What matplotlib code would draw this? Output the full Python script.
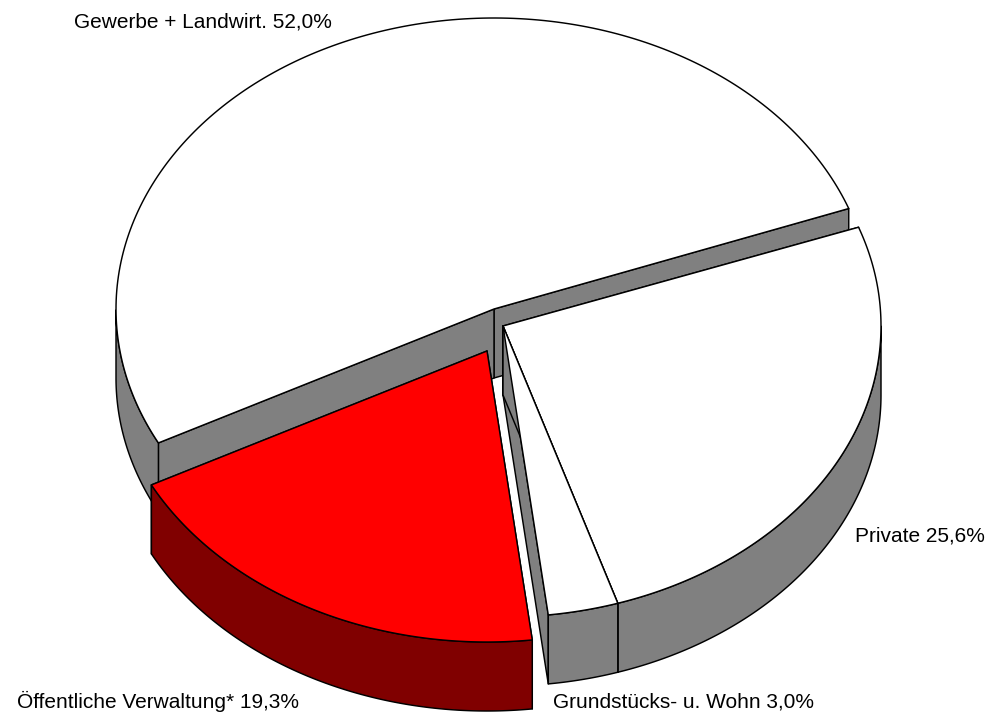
import numpy as np
import matplotlib
matplotlib.use("Agg")
import matplotlib.pyplot as plt

plt.rcParams['font.family'] = ['Liberation Sans', 'DejaVu Sans']

# Slices in pie order, drawing order is set further down
labels = ["Gewerbe + Landwirt. 52,0%", "Öffentliche Verwaltung* 19,3%",
          "Grundstücks- u. Wohn 3,0%", "Private 25,6%"]
shares = [52.0, 19.3, 3.0, 25.6]
top_colors = ["white", "#ff0000", "white", "white"]
side_colors = ["#808080", "#800000", "#808080", "#808080"]

# pie geometry in pixels
start_angle = 20.2
rx = 378
ry = 291
depth = 69
centers = [(494, 309), (487, 351), (503, 326), (503, 326)]
label_pos = [(74, 27), (17, 708), (553, 708), (855, 541)]

fig = plt.figure(figsize=(9.92, 7.14), dpi=100)
ax = fig.add_axes([0, 0, 1, 1])
ax.set_xlim(0, 992)
ax.set_ylim(714, 0)
ax.axis("off")

lw = 1.05


def rim(cx, cy, a0, a1, n=200):
    t = np.radians(np.linspace(a0, a1, n))
    return cx + rx * np.cos(t), cy - ry * np.sin(t)


def draw_slice(i, a0, a1):
    cx, cy = centers[i]
    x, y = rim(cx, cy, a0, a1)
    # the two cut faces
    for k in (0, -1):
        ax.fill([cx, x[k], x[k], cx], [cy, y[k], y[k] + depth, cy + depth],
                facecolor=side_colors[i], edgecolor="k", lw=lw, joinstyle="round")
    # outer wall, only the part that faces the viewer
    t = np.linspace(a0, a1, 400)
    front = np.sin(np.radians(t)) < 0
    if front.any():
        tf = t[front]
        xf, yf = rim(cx, cy, tf[0], tf[-1])
        ax.fill(np.r_[xf, xf[::-1]], np.r_[yf, yf[::-1] + depth],
                facecolor=side_colors[i], edgecolor="k", lw=lw, joinstyle="round")
    # top
    ax.fill(np.r_[cx, x], np.r_[cy, y], facecolor=top_colors[i],
            edgecolor="k", lw=lw, joinstyle="round")


ends = start_angle + np.cumsum(shares) * 3.6
starts = np.r_[start_angle, ends[:-1]]

# back to front
for i in [0, 3, 2, 1]:
    draw_slice(i, starts[i], ends[i])

for lab, pos in zip(labels, label_pos):
    ax.text(pos[0], pos[1], lab, fontsize=15, color="k", ha="left", va="baseline")

fig.savefig("out.png", dpi=100)
